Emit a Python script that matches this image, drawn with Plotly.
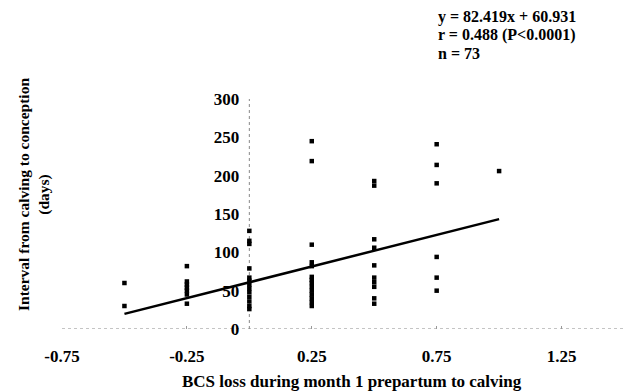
import plotly.graph_objects as go

# Data
x_levels = [-0.5, -0.25, 0.0, 0.25, 0.5, 0.75, 1.0]
y_m050 = [60, 30]
y_m025 = [82, 62, 58, 54, 50, 45, 33]
y_000 = [128, 115, 111, 79, 67, 63, 58, 53, 48, 42, 36, 30, 26]
y_025 = [245, 219, 110, 87, 82, 68, 64, 60, 55, 50, 45, 40, 35, 30]
y_050 = [193, 187, 117, 106, 83, 67, 61, 55, 40, 33]
y_075 = [241, 214, 190, 94, 67, 50]
y_100 = [206]
groups = [y_m050, y_m025, y_000, y_025, y_050, y_075, y_100]

slope = 82.419
intercept = 60.931
line_x = [-0.5, 1.0]

x_ticks = [-0.75, -0.25, 0.25, 0.75, 1.25]
y_ticks = [0, 50, 100, 150, 200, 250, 300]

xs, ys = [], []
for xv, g in zip(x_levels, groups):
    xs += [xv] * len(g)
    ys += g

line_y = [slope * v + intercept for v in line_x]

FONT = "Liberation Serif"

fig = go.Figure()
fig.add_trace(go.Scatter(x=xs, y=ys, mode="markers",
                         marker=dict(symbol="square", size=4.5, color="black"),
                         showlegend=False))
fig.add_trace(go.Scatter(x=line_x, y=line_y, mode="lines",
                         line=dict(color="black", width=2.5),
                         showlegend=False))

# dotted axis lines
fig.add_shape(type="line", xref="x", yref="y", x0=-0.75, x1=1.5, y0=0, y1=0,
              line=dict(color="#888888", width=1, dash="dot"), layer="below")
fig.add_shape(type="line", xref="x", yref="y", x0=0, x1=0, y0=0, y1=300,
              line=dict(color="#888888", width=1, dash="dot"), layer="below")

tick_font = dict(family=FONT, size=17, color="black", weight="bold")
fig.update_layout(
    width=628, height=392,
    margin=dict(l=62, r=4, t=99, b=63),
    plot_bgcolor="white", paper_bgcolor="white",
    xaxis=dict(range=[-0.75, 1.5], tickvals=x_ticks,
               ticktext=[f"{v:g}" for v in x_ticks],
               showgrid=False, zeroline=False, showline=False,
               ticks="inside", ticklen=3, tickcolor="#999999",
               ticklabelstandoff=15, tickfont=tick_font),
    yaxis=dict(range=[0, 300], tickvals=y_ticks, anchor="free",
               position=0.75 / 2.25,
               showgrid=False, zeroline=False, showline=False,
               ticks="", ticklabelstandoff=10, tickfont=tick_font),
)

ann_font = dict(family=FONT, size=17, color="black", weight="bold")
fig.add_annotation(xref="paper", yref="paper", x=(352 - 62) / 562, y=(329 - 381) / 230,
                   text="BCS loss during month 1 prepartum to calving",
                   showarrow=False, xanchor="center", yanchor="middle", font=ann_font)
fig.add_annotation(xref="paper", yref="paper", x=(34 - 62) / 562, y=(329 - 195) / 230,
                   text="Interval from calving to conception<br>(days)", textangle=-90,
                   showarrow=False, xanchor="center", yanchor="middle",
                   font=dict(family=FONT, size=15.5, color="black", weight="bold"))
stat_font = dict(family=FONT, size=16, color="black", weight="bold")
for i, t in enumerate(["y = 82.419x + 60.931", "r = 0.488 (P<0.0001)", "n = 73"]):
    fig.add_annotation(xref="paper", yref="paper", x=(437 - 62) / 562,
                       y=(329 - (17 + 18 * i)) / 230, text=t, showarrow=False,
                       xanchor="left", yanchor="middle", align="left",
                       borderpad=0, font=stat_font)

fig.write_html("out.html")
